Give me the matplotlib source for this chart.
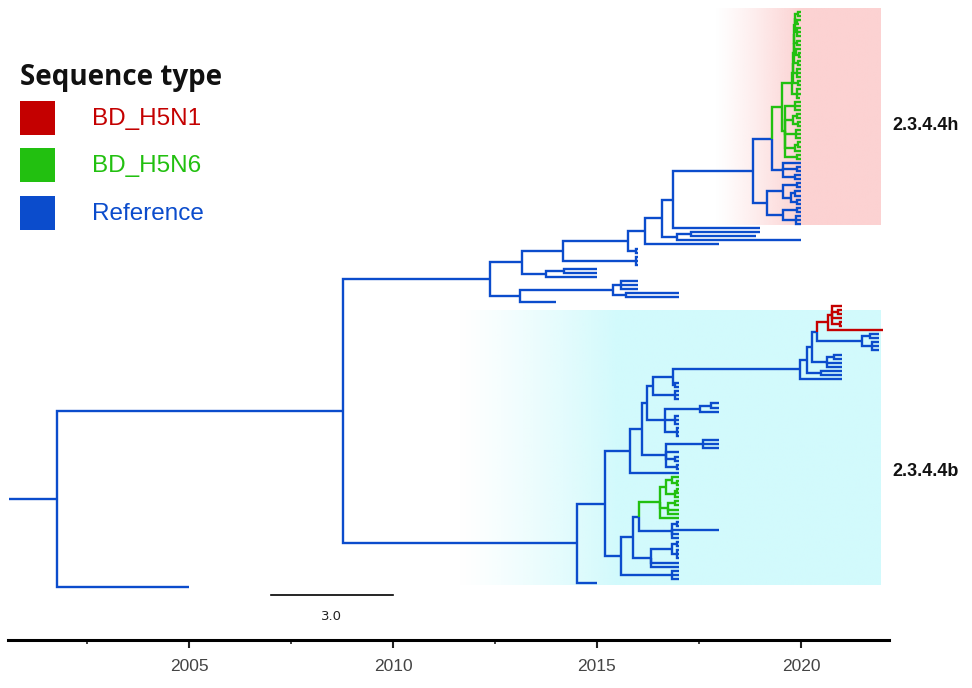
import matplotlib
matplotlib.use("Agg")
import matplotlib.pyplot as plt
import numpy as np
from matplotlib.patches import Rectangle

# ---------------- data: time-scaled tree (node dates as years - 2000) ----------------
# leaf token: colour letter + date ; internal node: (...)date
G1 = ("((((((((g20,g20)19.92,(g20,g19.95)19.9)19.86,(g20,g20,g20)19.9)19.85,(g20,g20)19.9)19.84,"
      "(g20,(g20,g20)19.95)19.88)19.83,(g20,g20)19.92)19.82,(g20,g20,g20)19.9)19.81,(g20,g20)19.93)19.8")
G1 = "(" + G1 + ",(g20,g20,g19.97)19.9)19.78"
G3 = "((g20,g20,g20)19.85,((g20,g20)19.9,(g20,g20)19.92)19.8,(g20,g20,g20)19.88,((g20,g20)19.93,g20)19.85,(g20,g20)19.9)19.6"
B_small = "(b20,(b20,b20)19.9,(b20,b20)19.85)19.55"
B1 = "((b20,b20)19.9,((b20,b20)19.85,(b20,b20)19.9)19.75)19.56"
B2 = "((b20,b20)19.9,(b20,b20,b20)19.88)19.56"
clade_h = f"((({G1},{G3})19.53,{B_small})19.3,({B1},{B2})19.17)18.82"

N673 = f"({clade_h},b19)16.86"
N677 = "((b19,b18.9)17.3,b20)16.96"
N662 = f"({N673},{N677})16.59"
N645 = f"({N662},b18)16.18"
N628 = f"({N645},(b16,b16)15.95)15.76"
N563 = f"({N628},(b16,b16,b16)15.95)14.17"
N545 = "((b15,b15)14.2,b15)13.75"
N522 = f"({N563},{N545})13.16"
N520 = "(((b16,b16,b16)15.6,(b17,b17)15.7)15.39,b14)13.11"
upper = f"({N522},{N520})12.38"

RED = "((r21,(r21,r21)20.9,r21,(r21,r21)20.95)20.75,r22)20.66"
N862 = "((b21.9,b21.9)21.7,(b21.9,b21.9,b21.9)21.75)21.5"
N827 = "((b21,b21)20.8,b21,b21)20.64"
sub2020 = f"(((({RED},{N862})20.39,{N827})20.27,(b21,b21)20.5)20.15,b21)19.98"
N653 = f"(({sub2020},(b17,b17)16.9)16.86,(b17,b17,b17)16.9)16.37"
N665 = "(((b18,b18)17.8,b18)17.52,(b17,b17,b17)16.9,(b17,b17,b17)16.95)16.67"
N647 = f"({N653},{N665})16.23"
Nc = "((b18,b18,b18)17.6,b17,(b17,b17)16.9,(b17,b17)16.95)16.7"
N630 = f"(({N647},{Nc})16.1,b17)15.81"
GREEN_B = "(((g17,(g17,g17)16.95)16.85,((g17,g17)16.95,g17)16.9)16.7,((g17,g17)16.9,g17,g17)16.75,g17)16.54"
N672 = "((b17,b17)16.95,b18,b17,b17)16.84"
N651 = "(((b17,b17)16.95,(b17,b17,b17)16.95)16.85,b17,b17)16.32"
N621 = f"((({GREEN_B},{N672})16.03,{N651})15.88,(b17,b17,b17)16.85)15.59"
lower = f"(({N630},{N621})15.2,b15)14.51"

tree_str = f"(({upper},{lower})8.77,b5)1.76"
root_start = 2000.6

tick_major = [2005, 2010, 2015, 2020]
tick_minor = [2002.5, 2007.5, 2012.5, 2017.5]
scale_bar = (2007.0, 2010.0)
scale_label = "3.0"
legend_title = "Sequence type"
legend_labels = ["BD_H5N1", "BD_H5N6", "Reference"]
clade_labels = ["2.3.4.4h", "2.3.4.4b"]

COL = {"r": "#c40000", "g": "#22c010", "b": "#0b4ccc"}

# ---------------- parse ----------------
def parse(s):
    s = s.replace(" ", "")
    pos = 0
    def num():
        nonlocal pos
        st = pos
        while pos < len(s) and (s[pos].isdigit() or s[pos] == "."):
            pos += 1
        return 2000 + float(s[st:pos])
    def node():
        nonlocal pos
        if s[pos] == "(":
            pos += 1
            ch = [node()]
            while s[pos] == ",":
                pos += 1
                ch.append(node())
            pos += 1  # ')'
            return {"t": num(), "ch": ch}
        c = s[pos]
        pos += 1
        return {"t": num(), "ch": [], "c": c}
    return node()

root = parse(tree_str)

leaves = []
def collect(n):
    if not n["ch"]:
        leaves.append(n)
    for c in n["ch"]:
        collect(c)
collect(root)
y_top, y_bot = 12.0, 587.0
step = (y_bot - y_top) / (len(leaves) - 1)
for i, lf in enumerate(leaves):
    lf["y"] = y_top + i * step

def layout(n):
    if n["ch"]:
        for c in n["ch"]:
            layout(c)
        n["y"] = 0.5 * (n["ch"][0]["y"] + n["ch"][-1]["y"])
        cols = {c["c"] for c in n["ch"]}
        n["c"] = cols.pop() if len(cols) == 1 else "b"
layout(root)

# ---------------- figure ----------------
W, H = 972, 688
fig = plt.figure(figsize=(W / 100, H / 100), dpi=100)
ax = fig.add_axes([0, 0, 1, 1])
x0 = 2005 - 189 / 40.8
x1 = 2005 + (W - 189) / 40.8
ax.set_xlim(x0, x1)
ax.set_ylim(H, 0)

# background gradients
def grad_rect(xa, xb, xfull, ya, yb, rgb):
    xs = np.linspace(xa, xb, 400)
    alpha = np.clip((xs - xa) / (xfull - xa), 0, 1) ** 1.2
    img = np.zeros((1, len(xs), 4))
    img[..., :3] = rgb
    img[0, :, 3] = alpha
    ax.imshow(img, extent=(xa, xb, yb, ya), aspect="auto", zorder=0, interpolation="bilinear")

grad_rect(2017.9, 2021.95, 2020.0, 8, 225, np.array([252, 210, 210]) / 255)
grad_rect(2011.6, 2021.95, 2015.5, 310, 585, np.array([210, 250, 252]) / 255)

LW = 1.7
def draw(n):
    for c in n["ch"]:
        ax.plot([n["t"], n["t"], c["t"]], [n["y"], c["y"], c["y"]], color=COL[c["c"]],
                lw=LW, solid_capstyle="butt", solid_joinstyle="miter", zorder=3 if c["c"] != "b" else 2)
        draw(c)
draw(root)
ax.plot([root_start, root["t"]], [root["y"], root["y"]], color=COL["b"], lw=LW, solid_capstyle="butt")

# scale bar
ax.plot(scale_bar, [595, 595], color="black", lw=1.2)
ax.text(np.mean(scale_bar), 617, scale_label, ha="center", va="center", fontsize=9.5,
        family="DejaVu Sans", color="#222222")

# time axis
for sp in ["left", "right", "top"]:
    ax.spines[sp].set_visible(False)
ax.spines["bottom"].set_position(("data", 640))
ax.spines["bottom"].set_bounds(2000.57, 2022.15)
ax.spines["bottom"].set_linewidth(2.2)
ax.spines["bottom"].set_zorder(5)
ax.set_yticks([])
ax.set_xticks(tick_major)
ax.set_xticks(tick_minor, minor=True)
ax.set_xticklabels([str(t) for t in tick_major], fontsize=12.5, color="#444444", family="Liberation Sans")
ax.tick_params(axis="x", which="major", direction="out", length=6, width=1.5, pad=8, color="#222222")
ax.tick_params(axis="x", which="minor", direction="out", length=3, width=1.2, color="#222222")

# clade labels
ax.text(2005 + (892 - 189) / 40.8, 126, clade_labels[0], fontsize=13, fontweight="bold",
        ha="left", va="center", family="Liberation Sans", color="#111111")
ax.text(2005 + (892 - 189) / 40.8, 471, clade_labels[1], fontsize=13, fontweight="bold",
        ha="left", va="center", family="Liberation Sans", color="#111111")

# legend (pixel-space overlay)
deco = fig.add_axes([0, 0, 1, 1], facecolor="none")
deco.set_xlim(0, W)
deco.set_ylim(H, 0)
deco.axis("off")
deco.text(20, 77, legend_title, fontsize=20, fontweight="bold", ha="left", va="center",
          family="Open Sans", color="#111111")
leg_cols = [COL["r"], COL["g"], COL["b"]]
leg_y = [118, 165, 213]
for yc, col, lab in zip(leg_y, leg_cols, legend_labels):
    deco.add_patch(Rectangle((20, yc - 17), 35, 34, color=col, lw=0))
    deco.text(92, yc + 1, lab, fontsize=17.5, color=col, ha="left", va="center", family="Liberation Sans")

fig.savefig("out.png", dpi=100)
